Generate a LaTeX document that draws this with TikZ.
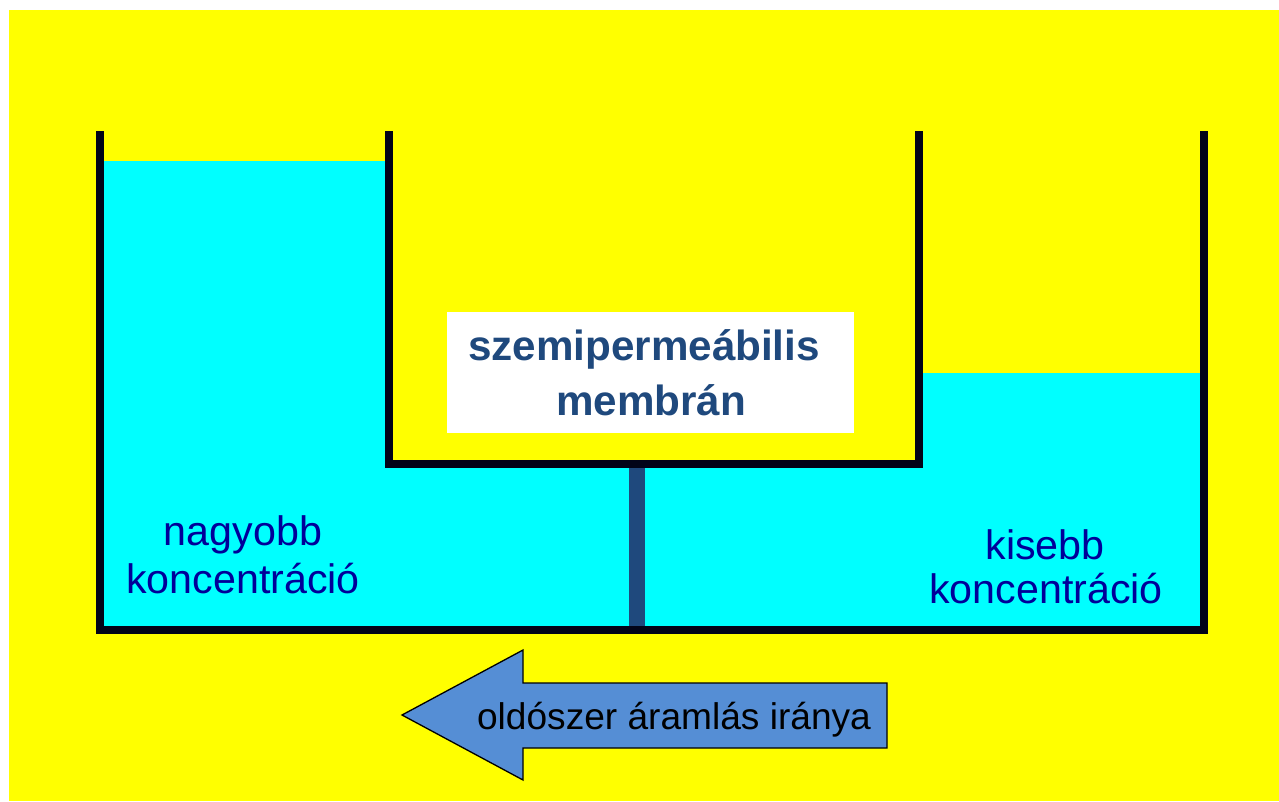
\documentclass[tikz,border=0pt]{standalone}
\usepackage{fontspec}
\setmainfont{Liberation Sans}
\definecolor{bgyellow}{RGB}{255,255,0}
\definecolor{water}{RGB}{0,255,255}
\definecolor{wall}{RGB}{2,4,24}
\definecolor{membr}{RGB}{31,73,125}
\definecolor{conc}{RGB}{0,0,153}
\definecolor{arrowblue}{RGB}{85,142,213}
\begin{document}
\begin{tikzpicture}[x=1pt,y=-1pt,
  wallline/.style={draw=wall,line width=8pt,line join=miter,line cap=butt},
  conctext/.style={text=conc,font=\fontsize{41.2}{48}\selectfont,anchor=base,inner sep=0pt},
  membtext/.style={text=membr,font=\bfseries\fontsize{42.2}{55}\selectfont,anchor=base,inner sep=0pt},
  arrowtext/.style={text=black,font=\fontsize{37.1}{44}\selectfont,anchor=base,inner sep=0pt}]
\useasboundingbox (0,0) rectangle (1279,801);
\fill[white] (0,0) rectangle (1279,801);
\fill[bgyellow] (9,10) rectangle (1279,801);
% water
\fill[water] (100,161) -- (389,161) -- (389,463) -- (918,463) -- (918,373) -- (1204,373) -- (1204,629) -- (100,629) -- cycle;
% membrane
\fill[membr] (629,466) rectangle (645,627);
% containers
\draw[wallline] (100,131) -- (100,629.5) -- (1204,629.5) -- (1204,131);
\draw[wallline] (389,131) -- (389,463.5) -- (918.5,463.5) -- (918.5,131);
% label box
\fill[white] (447,312) rectangle (854,433);
\node[membtext] (m1) at (644,360) {szemipermeábilis};
\node[membtext] (m2) at (651,415) {membrán};
% concentration labels
\node[conctext] (l1) at (243,545) {nagyobb};
\node[conctext] (l2) at (243,593) {koncentráció};
\node[conctext] (r1) at (1045,559) {kisebb};
\node[conctext] (r2) at (1046,603) {koncentráció};
% arrow
\draw[fill=arrowblue,draw=black,line width=1.3pt,line join=miter] (402,715) -- (523,650) -- (523,683) -- (887,683) -- (887,748) -- (523,748) -- (523,780) -- cycle;
\node[arrowtext] (a) at (674,729) {oldószer áramlás iránya};
\end{tikzpicture}
\end{document}
